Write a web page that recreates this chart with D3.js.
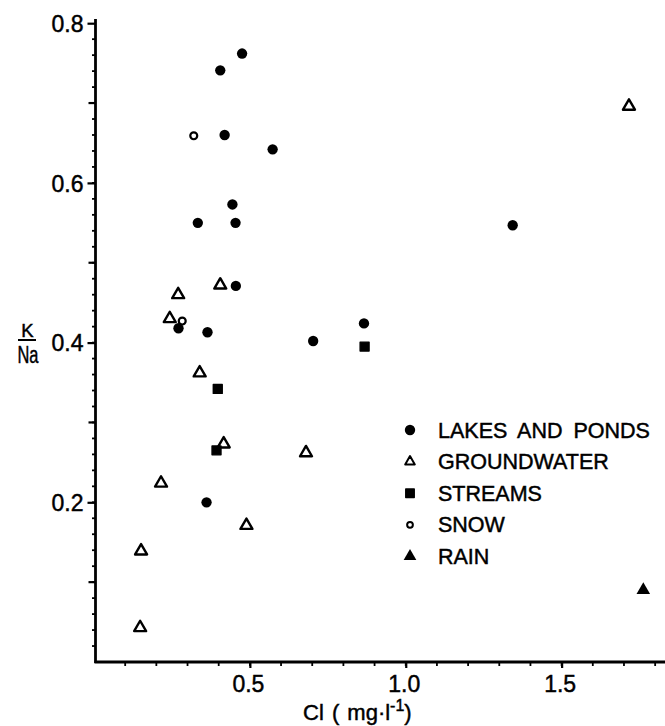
<!DOCTYPE html>
<html>
<head>
<meta charset="utf-8">
<script src="https://cdn.jsdelivr.net/npm/d3@7"></script>
<style>
  body { margin: 0; background: #fff; }
  text { font-family: "Liberation Sans", Arial, sans-serif; fill: #000; stroke: #000; stroke-width: 0.45px; }
</style>
</head>
<body>
<div id="chart"></div>
<script>
// K/Na ratio against chloride
var lakesCl   = [0.475, 0.405, 0.419, 0.573, 0.444, 0.333, 0.454, 0.455, 0.271, 0.364, 0.703, 0.866, 1.343, 0.361]
var lakesKNa  = [0.762, 0.741, 0.660, 0.642, 0.573, 0.550, 0.550, 0.471, 0.418, 0.413, 0.402, 0.424, 0.547, 0.200]

var groundCl  = [1.716, 0.405, 0.270, 0.243, 0.339, 0.416, 0.680, 0.215, 0.489, 0.151, 0.148]
var groundKNa = [0.696, 0.472, 0.460, 0.430, 0.362, 0.273, 0.262, 0.224, 0.171, 0.139, 0.043]

var streamCl  = [0.397, 0.393, 0.868]
var streamKNa = [0.342, 0.265, 0.395]

var snowCl    = [0.320, 0.283]
var snowKNa   = [0.659, 0.427]

var rainCl    = [1.762]
var rainKNa   = [0.090]

var legendLabels = ["LAKES AND PONDS", "GROUNDWATER", "STREAMS", "SNOW", "RAIN"]
var yTickLabels = [0.2, 0.4, 0.6, 0.8]
var xTickLabels = [0.5, 1.0, 1.5]

var width = 665, height = 726

var x = d3.scaleLinear().domain([0, 1.83]).range([94, 664.5])
var y = d3.scaleLinear().domain([0, 0.8]).range([662, 23.2])

var svg = d3.select("#chart").append("svg")
  .attr("width", width)
  .attr("height", height)

svg.append("rect").attr("width", width).attr("height", height).attr("fill", "#fff")

// axis lines
svg.append("line")
  .attr("x1", 95.5).attr("x2", 95.5).attr("y1", 19).attr("y2", 663)
  .attr("stroke", "#000").attr("stroke-width", 2.8)
svg.append("line")
  .attr("x1", 94.5).attr("x2", 665).attr("y1", 662).attr("y2", 662)
  .attr("stroke", "#000").attr("stroke-width", 2.8)

// y axis
var yAxis = svg.append("g")
  .attr("transform", "translate(95.5,0)")
  .call(d3.axisLeft(y).tickValues(yTickLabels).tickSize(8).tickPadding(4)
    .tickFormat(d3.format(".1f")))
yAxis.select(".domain").remove()
yAxis.selectAll("line").attr("stroke-width", 2.2)
yAxis.selectAll("text").style("font-size", "23px").attr("fill", "#000").attr("dy", "0.36em")

var yMid = [0.1, 0.3, 0.5, 0.7]
svg.selectAll(".ymid").data(yMid).enter().append("line")
  .attr("x1", 88.5).attr("x2", 95.5)
  .attr("y1", function(d){ return y(d) }).attr("y2", function(d){ return y(d) })
  .attr("stroke", "#000").attr("stroke-width", 2.2)

var yMinor = d3.range(1, 40).map(function(i){ return i * 0.02 })
svg.selectAll(".yminor").data(yMinor).enter().append("line")
  .attr("x1", 92).attr("x2", 95.5)
  .attr("y1", function(d){ return y(d) }).attr("y2", function(d){ return y(d) })
  .attr("stroke", "#000").attr("stroke-width", 1.8)

// x axis
var xAxis = svg.append("g")
  .attr("transform", "translate(0,662)")
  .call(d3.axisBottom(x).tickValues(xTickLabels).tickSize(6).tickPadding(8)
    .tickFormat(d3.format(".1f")))
xAxis.select(".domain").remove()
xAxis.selectAll("line").attr("stroke-width", 2.2)
xAxis.selectAll("text").style("font-size", "23px").attr("fill", "#000").attr("x", -2)

var xMinor = d3.range(1, 19).map(function(i){ return i * 0.1 })
svg.selectAll(".xminor").data(xMinor).enter().append("line")
  .attr("x1", function(d){ return x(d) }).attr("x2", function(d){ return x(d) })
  .attr("y1", 662).attr("y2", 666)
  .attr("stroke", "#000").attr("stroke-width", 1.8)

// axis titles
var xt = svg.append("text")
  .attr("x", 303).attr("y", 720)
  .style("font-size", "22px")
  .style("word-spacing", "2px")
xt.append("tspan").text("Cl ( mg\u00b7l")
xt.append("tspan").attr("dy", -9).style("font-size", "16px").text("-1")
xt.append("tspan").attr("dy", 9).text(")")

svg.append("text").attr("x", 27.5).attr("y", 337).attr("text-anchor", "middle")
  .style("font-size", "18.5px").text("K")
svg.append("line").attr("x1", 18).attr("x2", 36).attr("y1", 340).attr("y2", 340)
  .attr("stroke", "#000").attr("stroke-width", 2)
svg.append("text").attr("x", 28).attr("y", 363).attr("text-anchor", "middle")
  .style("font-size", "23px").attr("textLength", 21).attr("lengthAdjust", "spacingAndGlyphs").text("Na")

function zip(a, b){ return a.map(function(d, i){ return [d, b[i]] }) }

var circle = d3.symbol().type(d3.symbolCircle)
var tri = d3.symbol().type(d3.symbolTriangle)
var square = d3.symbol().type(d3.symbolSquare)

function pos(d){ return "translate(" + x(d[0]) + "," + y(d[1]) + ")" }

// data points
svg.selectAll(".lake").data(zip(lakesCl, lakesKNa)).enter().append("path")
  .attr("d", circle.size(84)).attr("transform", pos).attr("fill", "#000")

svg.selectAll(".ground").data(zip(groundCl, groundKNa)).enter().append("path")
  .attr("d", tri.size(62)).attr("transform", pos)
  .attr("fill", "none").attr("stroke", "#000").attr("stroke-width", 2.4).attr("stroke-linejoin", "round")

svg.selectAll(".stream").data(zip(streamCl, streamKNa)).enter().append("path")
  .attr("d", square.size(80)).attr("transform", pos)
  .attr("fill", "#000").attr("stroke", "#000").attr("stroke-width", 1.4).attr("stroke-linejoin", "round")

svg.selectAll(".snow").data(zip(snowCl, snowKNa)).enter().append("path")
  .attr("d", circle.size(38)).attr("transform", pos)
  .attr("fill", "none").attr("stroke", "#000").attr("stroke-width", 2.2)

svg.selectAll(".rain").data(zip(rainCl, rainKNa)).enter().append("path")
  .attr("d", tri.size(80)).attr("transform", pos).attr("fill", "#000")

// legend
var legendSymbols = [
  {sym: d3.symbolCircle, size: 84, fill: "#000", stroke: "none", sw: 0},
  {sym: d3.symbolTriangle, size: 40, fill: "none", stroke: "#000", sw: 2},
  {sym: d3.symbolSquare, size: 72, fill: "#000", stroke: "#000", sw: 1.4},
  {sym: d3.symbolCircle, size: 26, fill: "none", stroke: "#000", sw: 2},
  {sym: d3.symbolTriangle, size: 70, fill: "#000", stroke: "none", sw: 0}
]

var legend = svg.append("g").attr("transform", "translate(410,430)")
var rows = legend.selectAll("g").data(legendLabels).enter().append("g")
  .attr("transform", function(d, i){ return "translate(0," + (i * 31.6) + ")" })

rows.append("path")
  .attr("d", function(d, i){ return d3.symbol().type(legendSymbols[i].sym).size(legendSymbols[i].size)() })
  .attr("fill", function(d, i){ return legendSymbols[i].fill })
  .attr("stroke", function(d, i){ return legendSymbols[i].stroke })
  .attr("stroke-width", function(d, i){ return legendSymbols[i].sw })
  .attr("stroke-linejoin", "round")

rows.append("text")
  .attr("x", 28).attr("y", 7.5)
  .style("font-size", "21.5px")
  .style("word-spacing", "5px")
  .text(function(d){ return d })
</script>
</body>
</html>
